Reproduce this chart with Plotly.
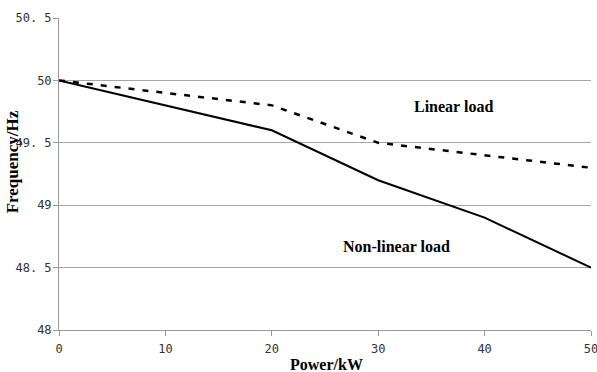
import plotly.graph_objects as go

power_kw = [0, 10, 20, 30, 40, 50]
linear_load_hz = [50.0, 49.9, 49.8, 49.5, 49.4, 49.3]
nonlinear_load_hz = [50.0, 49.8, 49.6, 49.2, 48.9, 48.5]
y_tick_vals = [48, 48.5, 49, 49.5, 50, 50.5]
y_tick_text = ["48", "48. 5", "49", "49. 5", "50", "50. 5"]
x_tick_vals = [0, 10, 20, 30, 40, 50]

fig = go.Figure()
fig.add_trace(go.Scatter(x=power_kw, y=linear_load_hz, mode="lines",
                         line=dict(color="black", width=2.5, dash="6px,8px"),
                         showlegend=False))
fig.add_trace(go.Scatter(x=power_kw, y=nonlinear_load_hz, mode="lines",
                         line=dict(color="black", width=2),
                         showlegend=False))

serif = "Liberation Serif"
fig.add_annotation(x=37.1, y=49.79, text="<b>Linear load</b>", showarrow=False,
                   xanchor="center", yanchor="middle",
                   font=dict(family=serif, size=16, color="black"))
fig.add_annotation(x=31.7, y=48.67, text="<b>Non-linear load</b>", showarrow=False,
                   xanchor="center", yanchor="middle",
                   font=dict(family=serif, size=16, color="black"))
fig.add_annotation(x=0.502, y=-0.109, xref="paper", yref="paper", text="<b>Power/kW</b>",
                   showarrow=False, xanchor="center", yanchor="middle",
                   font=dict(family=serif, size=16, color="black"))
fig.add_annotation(x=-0.088, y=0.538, xref="paper", yref="paper", text="<b>Frequency/Hz</b>",
                   textangle=-90, showarrow=False, xanchor="center", yanchor="middle",
                   font=dict(family=serif, size=17, color="black"))

fig.update_xaxes(range=[0, 50], tickvals=x_tick_vals, ticks="outside", ticklen=5,
                 tickcolor="#999999", showline=True, linecolor="#999999", linewidth=1,
                 showgrid=False, zeroline=False, ticklabeloverflow="allow",
                 ticklabelstandoff=3, automargin=False,
                 tickfont=dict(family="DejaVu Sans Mono", size=12, color="#333333"))
fig.update_yaxes(range=[48, 50.5], tickvals=y_tick_vals, ticktext=y_tick_text,
                 ticks="outside", ticklen=5, tickcolor="#999999", ticklabelstandoff=-1,
                 showline=True, linecolor="#999999", linewidth=1, automargin=False,
                 showgrid=True, gridcolor="#a6a6a6", gridwidth=1, zeroline=False,
                 tickfont=dict(family="DejaVu Sans Mono", size=12, color="#333333"))

fig.update_layout(width=597, height=372, margin=dict(l=59, r=6, t=18, b=42),
                  plot_bgcolor="white", paper_bgcolor="white")
fig.write_html("out.html", config={"displayModeBar": False},
               post_script="document.body.style.margin='0';document.body.style.padding='0';")
